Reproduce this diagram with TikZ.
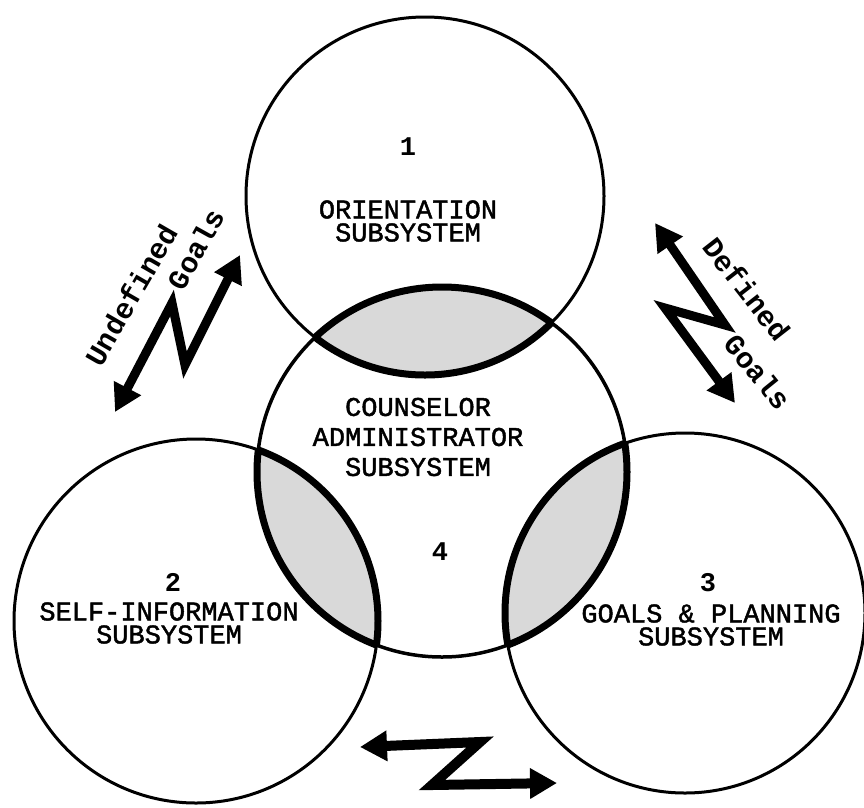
\documentclass[tikz,border=0pt]{standalone}
\usepackage{fontspec}
\newfontfamily\cour{Liberation Mono}
\newfontfamily\courmed[FakeBold=1.6]{Liberation Mono}
\usetikzlibrary{arrows.meta}
\begin{document}
\begin{tikzpicture}[x=1pt,y=-1pt,
  circ/.style={circle,draw,line width=3pt,inner sep=0pt,minimum size=#1},
  lab/.style={font=\courmed\fontsize{27}{23}\selectfont,align=center,inner sep=0pt},
  num/.style={font=\cour\bfseries\fontsize{27}{27}\selectfont,inner sep=0pt},
  glab/.style={font=\cour\bfseries\fontsize{29}{29}\selectfont,inner sep=0pt},
  zig/.style={line width=9pt,line join=miter,{Triangle[length=27pt,width=29pt]}-{Triangle[length=27pt,width=29pt]}},
  lensfill/.style={fill=gray!30},
  lensline/.style={line width=7pt}
]
\useasboundingbox (0,0) rectangle (864,807);
\coordinate (o1) at (425,196);
\coordinate (o2) at (196,621);
\coordinate (o3) at (685,613);
\coordinate (o4) at (442,472);
% lenses
\begin{scope}\clip (o4) circle (185pt); \fill[lensfill] (o1) circle (179pt); \end{scope}
\begin{scope}\clip (o4) circle (185pt); \fill[lensfill] (o2) circle (182pt); \end{scope}
\begin{scope}\clip (o4) circle (185pt); \fill[lensfill] (o3) circle (180pt); \end{scope}
\begin{scope}\clip (o4) circle (185pt);
  \draw[lensline] (o1) circle (179pt);
  \draw[lensline] (o2) circle (182pt);
  \draw[lensline] (o3) circle (180pt);
\end{scope}
\begin{scope}\clip (o1) circle (179pt); \draw[lensline] (o4) circle (185pt); \end{scope}
\begin{scope}\clip (o2) circle (182pt); \draw[lensline] (o4) circle (185pt); \end{scope}
\begin{scope}\clip (o3) circle (180pt); \draw[lensline] (o4) circle (185pt); \end{scope}
% circles
\node[circ=358pt] (c1) at (o1) {};
\node[circ=364pt] (c2) at (o2) {};
\node[circ=360pt] (c3) at (o3) {};
\node[circ=370pt,line width=3.5pt] (c4) at (o4) {};
% texts
\node[num] (n1) at (408,147) {1};
\node[lab] (t1) at (408,221) {ORIENTATION\\SUBSYSTEM};
\node[lab,font=\courmed\fontsize{27}{30}\selectfont] (t4) at (418,437) {COUNSELOR\\ADMINISTRATOR\\SUBSYSTEM};
\node[num] (n4) at (440,552) {4};
\node[num] (n2) at (173,582) {2};
\node[lab] (t2) at (169,623) {SELF-INFORMATION\\SUBSYSTEM};
\node[num] (n3) at (708,583) {3};
\node[lab] (t3) at (711,625) {GOALS \& PLANNING\\SUBSYSTEM};
% zigzag arrows
\coordinate (ua) at (115,412);
\coordinate (ub) at (172,303);
\coordinate (uc) at (185,365);
\coordinate (ud) at (240,255);
\draw[zig] (ua) -- (ub) -- (uc) -- (ud);
\coordinate (da) at (655,223);
\coordinate (db) at (725,325);
\coordinate (dc) at (665,308);
\coordinate (dd) at (735,403);
\draw[zig] (da) -- (db) -- (dc) -- (dd);
\coordinate (ba) at (360,747);
\coordinate (bb) at (480,742);
\coordinate (bc) at (432,785);
\coordinate (bd) at (557,783);
\draw[zig,line width=10pt] (ba) -- (bb) -- (bc) -- (bd);
% arrow labels
\node[glab,rotate=60] (und) at (131,295) {Undefined};
\node[glab,rotate=61] (ug) at (196,249) {Goals};
\node[glab,rotate=-52] (def) at (747,289) {Defined};
\node[glab,rotate=-51] (dg) at (758,372) {Goals};
\end{tikzpicture}
\end{document}
